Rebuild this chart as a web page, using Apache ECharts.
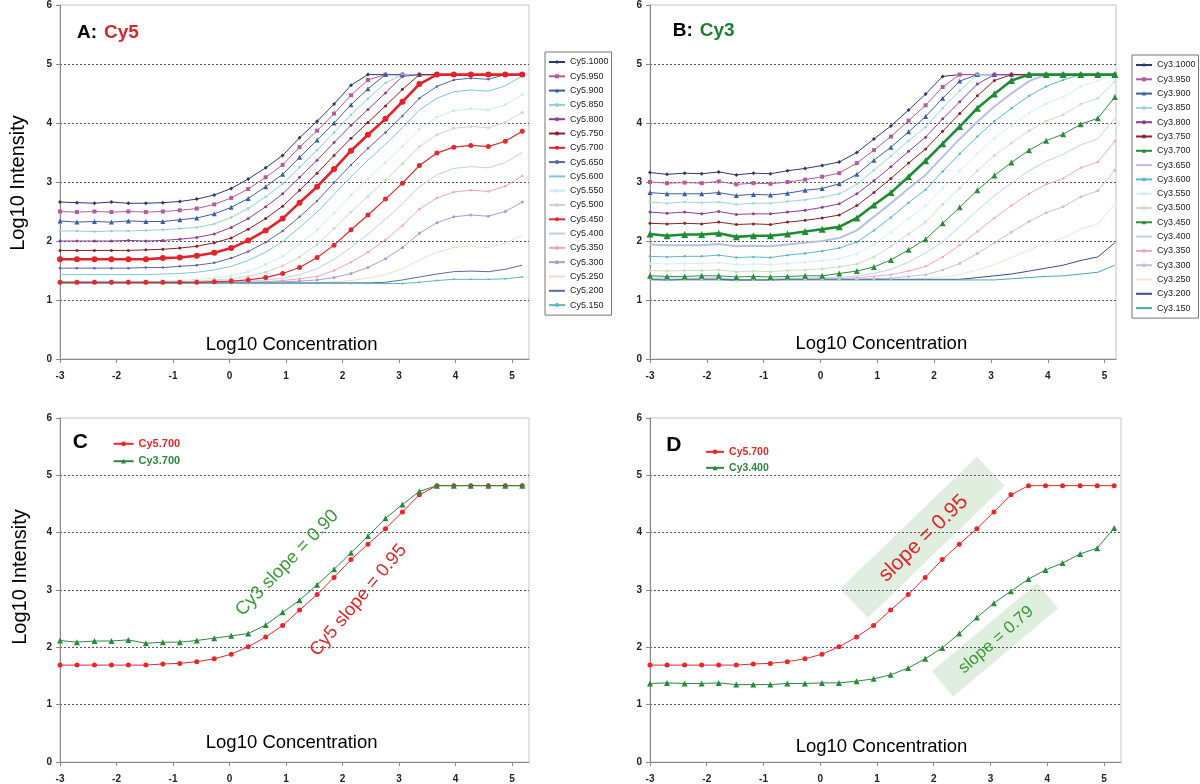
<!DOCTYPE html>
<html><head><meta charset="utf-8">
<script src="https://cdn.jsdelivr.net/npm/echarts@6/dist/echarts.min.js"></script>
<style>html,body{margin:0;padding:0;background:#fff}#c{width:1200px;height:784px}</style>
</head><body><div id="c"></div>
<script>
// ---------- data ----------
const conc = [-3.00,-2.70,-2.39,-2.09,-1.79,-1.48,-1.18,-0.88,-0.58,-0.27,0.03,0.33,0.64,0.94,1.24,1.55,1.85,2.15,2.45,2.76,3.06,3.36,3.67,3.97,4.27,4.58,4.88,5.18];
const xTickLabels = [-3,-2,-1,0,1,2,3,4,5];
const yTickLabels = [0,1,2,3,4,5,6];

const cy5Names = ['Cy5.1000','Cy5.950','Cy5.900','Cy5.850','Cy5.800','Cy5.750','Cy5.700','Cy5.650','Cy5.600','Cy5.550','Cy5.500','Cy5.450','Cy5.400','Cy5.350','Cy5.300','Cy5.250','Cy5.200','Cy5.150'];
const cy3Names = ['Cy3.1000','Cy3.950','Cy3.900','Cy3.850','Cy3.800','Cy3.750','Cy3.700','Cy3.650','Cy3.600','Cy3.550','Cy3.500','Cy3.450','Cy3.400','Cy3.350','Cy3.300','Cy3.250','Cy3.200','Cy3.150'];

const cy5_1000 = [2.66,2.65,2.64,2.66,2.64,2.64,2.65,2.67,2.71,2.78,2.89,3.05,3.24,3.45,3.75,4.03,4.32,4.64,4.82,4.82,4.82,4.82,4.82,4.82,4.82,4.82,4.82,4.82];
const cy5_950  = [2.50,2.49,2.50,2.49,2.50,2.49,2.50,2.52,2.55,2.62,2.73,2.88,3.08,3.29,3.59,3.87,4.16,4.47,4.73,4.82,4.82,4.82,4.82,4.82,4.82,4.82,4.82,4.82];
const cy5_900  = [2.34,2.32,2.33,2.32,2.34,2.33,2.33,2.36,2.39,2.46,2.57,2.72,2.92,3.13,3.42,3.71,4.00,4.31,4.58,4.82,4.82,4.82,4.82,4.82,4.82,4.82,4.82,4.82];
const cy5_850  = [2.17,2.17,2.16,2.17,2.17,2.18,2.19,2.21,2.23,2.29,2.40,2.55,2.75,2.97,3.25,3.54,3.84,4.14,4.41,4.68,4.82,4.82,4.82,4.82,4.82,4.82,4.82,4.82];
const cy5_800  = [2.00,2.00,2.00,2.00,2.01,2.00,2.01,2.03,2.06,2.12,2.23,2.38,2.58,2.80,3.08,3.37,3.67,3.96,4.23,4.51,4.79,4.82,4.82,4.82,4.82,4.82,4.82,4.82];
const cy5_750  = [1.84,1.84,1.84,1.84,1.84,1.85,1.86,1.88,1.91,1.97,2.05,2.20,2.38,2.59,2.86,3.15,3.45,3.74,4.01,4.29,4.57,4.82,4.82,4.82,4.82,4.82,4.82,4.82];
const cy5_700  = [1.69,1.69,1.69,1.69,1.69,1.69,1.71,1.72,1.75,1.80,1.88,2.01,2.18,2.38,2.65,2.92,3.22,3.53,3.80,4.07,4.36,4.66,4.82,4.82,4.82,4.82,4.82,4.82];
const cy5_650  = [1.54,1.54,1.54,1.54,1.54,1.55,1.55,1.57,1.59,1.63,1.71,1.82,1.98,2.17,2.41,2.68,2.99,3.29,3.57,3.84,4.12,4.42,4.62,4.73,4.76,4.74,4.82,4.82];
const cy5_600  = [1.43,1.43,1.43,1.43,1.43,1.43,1.44,1.45,1.47,1.51,1.57,1.67,1.81,1.99,2.23,2.49,2.79,3.09,3.37,3.64,3.92,4.22,4.42,4.53,4.56,4.54,4.63,4.80];
const cy5_550  = [1.32,1.32,1.32,1.32,1.32,1.32,1.32,1.33,1.35,1.37,1.41,1.48,1.60,1.74,1.95,2.19,2.48,2.78,3.05,3.33,3.60,3.90,4.10,4.21,4.24,4.22,4.31,4.48];
const cy5_500  = [1.31,1.31,1.31,1.31,1.31,1.31,1.31,1.31,1.32,1.34,1.36,1.40,1.47,1.58,1.73,1.94,2.21,2.49,2.76,3.03,3.31,3.60,3.80,3.91,3.94,3.92,4.01,4.18];
const cy5_450  = [1.30,1.30,1.30,1.30,1.30,1.30,1.30,1.30,1.30,1.31,1.32,1.34,1.38,1.45,1.55,1.72,1.93,2.19,2.44,2.71,2.98,3.28,3.49,3.59,3.62,3.60,3.69,3.86];
const cy5_400  = [1.30,1.30,1.30,1.30,1.30,1.30,1.30,1.30,1.30,1.30,1.30,1.32,1.34,1.37,1.43,1.53,1.69,1.89,2.12,2.37,2.63,2.92,3.12,3.23,3.26,3.24,3.33,3.50];
const cy5_350  = [1.30,1.30,1.30,1.30,1.30,1.30,1.30,1.30,1.30,1.30,1.30,1.30,1.31,1.33,1.36,1.40,1.50,1.64,1.81,2.02,2.26,2.54,2.73,2.83,2.86,2.84,2.93,3.10];
const cy5_300  = [1.30,1.30,1.30,1.30,1.30,1.30,1.30,1.30,1.30,1.30,1.30,1.30,1.30,1.31,1.32,1.34,1.38,1.45,1.55,1.70,1.89,2.13,2.31,2.41,2.44,2.42,2.50,2.66];
const cy5_250  = [1.29,1.29,1.29,1.29,1.29,1.29,1.29,1.29,1.29,1.29,1.29,1.29,1.29,1.29,1.29,1.29,1.31,1.33,1.37,1.43,1.53,1.68,1.81,1.89,1.91,1.89,1.96,2.10];
const cy5_200  = [1.29,1.29,1.29,1.29,1.29,1.29,1.29,1.29,1.29,1.29,1.29,1.29,1.29,1.29,1.29,1.29,1.29,1.29,1.29,1.30,1.34,1.39,1.44,1.48,1.49,1.48,1.52,1.59];
const cy5_150  = [1.28,1.28,1.28,1.28,1.28,1.28,1.28,1.28,1.28,1.28,1.28,1.28,1.28,1.28,1.28,1.28,1.28,1.28,1.28,1.28,1.28,1.30,1.33,1.35,1.35,1.35,1.36,1.39];

const cy3_1000 = [3.16,3.13,3.15,3.14,3.17,3.12,3.15,3.14,3.19,3.23,3.28,3.34,3.50,3.73,3.95,4.22,4.49,4.79,4.82,4.82,4.82,4.82,4.82,4.82,4.82,4.82,4.82,4.82];
const cy3_950  = [3.00,2.98,2.99,2.98,3.01,2.96,2.98,2.97,3.00,3.04,3.09,3.15,3.32,3.54,3.77,4.04,4.30,4.61,4.82,4.82,4.82,4.82,4.82,4.82,4.82,4.82,4.82,4.82];
const cy3_900  = [2.82,2.80,2.80,2.80,2.82,2.77,2.79,2.78,2.81,2.86,2.89,2.97,3.13,3.37,3.59,3.85,4.11,4.42,4.71,4.82,4.82,4.82,4.82,4.82,4.82,4.82,4.82,4.82];
const cy3_850  = [2.66,2.64,2.66,2.65,2.66,2.62,2.64,2.64,2.67,2.70,2.74,2.80,2.96,3.20,3.44,3.70,3.93,4.25,4.55,4.82,4.82,4.82,4.82,4.82,4.82,4.82,4.82,4.82];
const cy3_800  = [2.49,2.47,2.49,2.46,2.50,2.45,2.46,2.46,2.49,2.52,2.57,2.63,2.80,3.02,3.26,3.52,3.76,4.07,4.36,4.66,4.82,4.82,4.82,4.82,4.82,4.82,4.82,4.82];
const cy3_750  = [2.30,2.29,2.30,2.29,2.32,2.28,2.29,2.28,2.32,2.35,2.39,2.44,2.60,2.82,3.06,3.32,3.56,3.86,4.16,4.46,4.72,4.82,4.82,4.82,4.82,4.82,4.82,4.82];
const cy3_700  = [2.12,2.09,2.11,2.11,2.13,2.07,2.09,2.09,2.12,2.16,2.20,2.24,2.39,2.61,2.82,3.09,3.36,3.65,3.94,4.25,4.49,4.72,4.82,4.82,4.82,4.82,4.82,4.82];
const cy3_650  = [1.94,1.93,1.93,1.93,1.95,1.91,1.92,1.91,1.94,1.97,2.00,2.05,2.18,2.41,2.64,2.89,3.12,3.43,3.73,4.02,4.28,4.50,4.71,4.82,4.82,4.82,4.82,4.82];
const cy3_600  = [1.74,1.73,1.74,1.74,1.76,1.72,1.73,1.72,1.76,1.79,1.83,1.88,1.98,2.18,2.40,2.65,2.87,3.18,3.48,3.77,4.03,4.25,4.46,4.62,4.73,4.82,4.82,4.82];
const cy3_550  = [1.62,1.61,1.62,1.62,1.63,1.60,1.61,1.60,1.62,1.64,1.67,1.70,1.78,1.94,2.15,2.38,2.60,2.90,3.19,3.48,3.74,3.96,4.17,4.33,4.44,4.62,4.72,4.82];
const cy3_500  = [1.50,1.49,1.50,1.50,1.51,1.48,1.49,1.48,1.50,1.51,1.53,1.56,1.61,1.73,1.91,2.12,2.32,2.62,2.90,3.19,3.45,3.66,3.87,4.03,4.14,4.32,4.42,4.70];
const cy3_450  = [1.41,1.40,1.40,1.41,1.41,1.39,1.40,1.39,1.40,1.41,1.41,1.45,1.49,1.56,1.68,1.85,2.03,2.30,2.57,2.86,3.11,3.33,3.54,3.70,3.81,3.98,4.08,4.44];
const cy3_400  = [1.37,1.38,1.37,1.37,1.38,1.35,1.35,1.35,1.37,1.37,1.38,1.38,1.41,1.45,1.52,1.64,1.80,1.99,2.24,2.52,2.77,2.98,3.19,3.35,3.47,3.63,3.73,4.08];
const cy3_350  = [1.37,1.35,1.36,1.36,1.37,1.34,1.35,1.35,1.36,1.36,1.36,1.36,1.38,1.40,1.43,1.49,1.57,1.73,1.93,2.16,2.39,2.60,2.80,2.96,3.06,3.24,3.34,3.69];
const cy3_300  = [1.36,1.34,1.35,1.35,1.36,1.33,1.34,1.34,1.35,1.35,1.35,1.35,1.35,1.36,1.37,1.40,1.43,1.51,1.62,1.79,1.97,2.15,2.33,2.48,2.58,2.75,2.85,3.20];
const cy3_250  = [1.35,1.34,1.35,1.35,1.35,1.33,1.34,1.34,1.35,1.35,1.35,1.35,1.35,1.35,1.35,1.35,1.37,1.39,1.43,1.51,1.60,1.72,1.85,1.96,2.05,2.20,2.29,2.62];
const cy3_200  = [1.35,1.34,1.35,1.35,1.35,1.34,1.34,1.34,1.35,1.35,1.35,1.35,1.35,1.35,1.35,1.35,1.35,1.35,1.35,1.38,1.41,1.44,1.49,1.54,1.59,1.67,1.73,1.97];
const cy3_150  = [1.34,1.34,1.34,1.34,1.34,1.33,1.34,1.34,1.34,1.34,1.34,1.34,1.34,1.34,1.34,1.34,1.34,1.34,1.34,1.34,1.34,1.36,1.38,1.40,1.41,1.44,1.47,1.59];

const cy5Values = [cy5_1000,cy5_950,cy5_900,cy5_850,cy5_800,cy5_750,cy5_700,cy5_650,cy5_600,cy5_550,cy5_500,cy5_450,cy5_400,cy5_350,cy5_300,cy5_250,cy5_200,cy5_150];
const cy3Values = [cy3_1000,cy3_950,cy3_900,cy3_850,cy3_800,cy3_750,cy3_700,cy3_650,cy3_600,cy3_550,cy3_500,cy3_450,cy3_400,cy3_350,cy3_300,cy3_250,cy3_200,cy3_150];

// ---------- styles ----------
const FONT = 'Liberation Sans, Arial, sans-serif';
const cy5Style = [
 {c:'#2e3a6e',s:'diamond',z:4},{c:'#b45a9e',s:'rect',z:4},{c:'#3b5da8',s:'triangle',z:5},
 {c:'#8fd0d8',s:'circle',z:2.5},{c:'#8b3f96',s:'circle',z:3},{c:'#8e1f2b',s:'circle',z:3},
 {c:'#e2232a',s:'circle',z:6,w:2.6,top:true},{c:'#5b64a3',s:'circle',z:2.5},{c:'#7cc5de',s:null},
 {c:'#cfe8f1',s:'circle',z:3},{c:'#cad9c3',s:'circle',z:3},{c:'#df2a30',s:'circle',z:5,w:1.2,top:true},
 {c:'#b9d0e8',s:null},{c:'#eea5ba',s:'circle',z:2.5},{c:'#aa9dc9',s:'circle',z:3},
 {c:'#f4d8ca',s:null},{c:'#5b6a99',s:null},{c:'#5cb9c1',s:'circle',z:2}
];
const cy3Style = [
 {c:'#2e3a6e',s:'diamond',z:4},{c:'#b45a9e',s:'rect',z:4},{c:'#3b5da8',s:'triangle',z:5},
 {c:'#9ad6de',s:'circle',z:2.5},{c:'#8b3f96',s:'circle',z:3},{c:'#8e1f2b',s:'circle',z:3},
 {c:'#1f8b34',s:'triangle',z:7,w:2.6,top:true},{c:'#b8c0e2',s:null,w:2},{c:'#5fb8c8',s:'circle',z:2.5},
 {c:'#d6eef6',s:'circle',z:3},{c:'#c9dfc2',s:'circle',z:3},{c:'#2e8c3d',s:'triangle',z:6,w:1,top:true},
 {c:'#bcd3f0',s:null},{c:'#f0a9c0',s:'circle',z:2.5},{c:'#c6bfe0',s:'circle',z:3},
 {c:'#f6dfd2',s:null},{c:'#3d4c82',s:null},{c:'#44a9b2',s:null}
];

function mk(name, vals, st, gi){
  return {name, type:'line', xAxisIndex:gi, yAxisIndex:gi,
    data: conc.map((x,i)=>[x, vals[i]]),
    symbol: st.s || 'none', symbolSize: st.z || 3, showSymbol: !!st.s,
    lineStyle:{color:st.c, width:st.w || 1}, itemStyle:{color:st.c},
    z: st.top ? 4 : 3, silent:true, animation:false, emphasis:{disabled:true}};
}

const grids = [
  {left:60, top:5, width:469, height:354},
  {left:650, top:5, width:466, height:354},
  {left:60, top:418, width:469, height:346},
  {left:650, top:418, width:471, height:346}
];
const xMax = [5.3, 5.2, 5.3, 5.3];

const xAxes = grids.map((g,i)=>({gridIndex:i, type:'value', min:-3, max:xMax[i], interval:1,
  axisLine:{show:true, onZero:false, lineStyle:{color:'#8a8a8a'}},
  axisTick:{show:true, length:4, lineStyle:{color:'#8a8a8a'}},
  axisLabel:{margin:12, fontSize:10, fontWeight:'bold', color:'#222', fontFamily:FONT, showMaxLabel:false,
    formatter: v => xTickLabels.includes(v) ? String(v) : ''},
  splitLine:{show:false}}));
const yAxes = grids.map((g,i)=>({gridIndex:i, type:'value', min:0, max:6, interval:1,
  axisLine:{show:true, onZero:false, lineStyle:{color:'#8a8a8a'}},
  axisTick:{show:true, length:4, lineStyle:{color:'#8a8a8a'}},
  axisLabel:{margin:8, fontSize:10, fontWeight:'bold', color:'#222', fontFamily:FONT,
    formatter: v => yTickLabels.includes(v) ? String(v) : ''},
  splitLine:{show:true, showMinLine:false, showMaxLine:false, lineStyle:{color:'#555', type:[2,2], width:1}}}));

const series = [];
cy5Names.forEach((n,i)=>series.push(mk(n, cy5Values[i], cy5Style[i], 0)));
cy3Names.forEach((n,i)=>series.push(mk(n, cy3Values[i], cy3Style[i], 1)));
const redC = '#e8262b', greenC = '#2a8a3a';
series.push(mk('C Cy5.700', cy5_700, {c:redC, s:'circle', z:5}, 2));
series.push(mk('C Cy3.700', cy3_700, {c:greenC, s:'triangle', z:6}, 2));
series.push(mk('D Cy5.700', cy5_700, {c:redC, s:'circle', z:5}, 3));
series.push(mk('D Cy3.400', cy3_400, {c:greenC, s:'triangle', z:6}, 3));

function legendItems(names, styles){
  return names.map((n,i)=> styles[i].s ? {name:n} : {name:n, itemStyle:{opacity:0}});
}
const bigLegend = (names, styles, left, top) => ({
  data: legendItems(names, styles), orient:'vertical', left, top,
  itemWidth:16, itemHeight:5, itemGap:2.3, padding:[4,3,4,3],
  borderColor:'#777', borderWidth:1, backgroundColor:'#fff', selectedMode:false,
  textStyle:{fontSize:9, lineHeight:12, color:'#222', fontFamily:FONT}
});

const option = {
  animation:false,
  textStyle:{fontFamily:FONT},
  grid: grids.map(g=>Object.assign({show:true, borderColor:'#c4c4c4', borderWidth:1, containLabel:false}, g)),
  xAxis: xAxes, yAxis: yAxes, series,
  legend: [
    bigLegend(cy5Names, cy5Style, 545, 52),
    bigLegend(cy3Names, cy3Style, 1132, 55),
    {data:[{name:'C Cy5.700', textStyle:{color:redC}},{name:'C Cy3.700', textStyle:{color:greenC}}],
     formatter:n=>n.slice(2), orient:'vertical', left:0, top:0, padding:0, itemWidth:20, itemHeight:6, itemGap:4.4,
     selectedMode:false, textStyle:{fontSize:11, fontWeight:'bold', lineHeight:13, fontFamily:FONT}},
    {data:[{name:'D Cy5.700', textStyle:{color:redC}},{name:'D Cy3.400', textStyle:{color:greenC}}],
     formatter:n=>n.slice(2), orient:'vertical', left:0, top:0, padding:0, itemWidth:18, itemHeight:6, itemGap:4,
     selectedMode:false, textStyle:{fontSize:10.5, fontWeight:'bold', lineHeight:12, fontFamily:FONT}}
  ]
};

const chart = echarts.init(document.getElementById('c'));
chart.setOption(option);

const P = (g, x, y) => chart.convertToPixel({gridIndex:g}, [x, y]);
function txt(pt, text, o){
  return {type:'text', x:pt[0], y:pt[1], rotation:(o.rot||0)*Math.PI/180, z:o.z||50,
    style:{text, fill:o.color||'#000', fontSize:o.size||18, fontWeight:o.weight||'normal', fontFamily:FONT,
      align:o.align||'center', verticalAlign:'middle'}};
}
function box(pt, w, h, rot){
  return {type:'rect', x:pt[0], y:pt[1], rotation:rot*Math.PI/180, z:-1,
    shape:{x:-w/2, y:-h/2, width:w, height:h}, style:{fill:'#dfeedf'}};
}
const gfx = [];
// panel titles
const pa = P(0, -2.70, 5.53);
gfx.push(txt(pa, 'A:', {size:19, weight:'bold', align:'left'}));
gfx.push(txt([pa[0]+27, pa[1]], 'Cy5', {size:19, weight:'bold', align:'left', color:'#d9262b'}));
const pb = P(1, -2.60, 5.56);
gfx.push(txt(pb, 'B:', {size:19, weight:'bold', align:'left'}));
gfx.push(txt([pb[0]+27, pb[1]], 'Cy3', {size:19, weight:'bold', align:'left', color:'#1f7d33'}));
gfx.push(txt(P(2, -2.64, 5.57), 'C', {size:21, weight:'bold'}));
gfx.push(txt(P(3, -2.58, 5.53), 'D', {size:21, weight:'bold'}));
// axis titles
gfx.push(txt([18, 183], 'Log10 Intensity', {size:20, rot:90}));
gfx.push(txt([20, 577], 'Log10 Intensity', {size:20, rot:90}));
gfx.push(txt(P(0, 1.10, 0.24), 'Log10 Concentration', {size:18.5}));
gfx.push(txt(P(1, 1.07, 0.25), 'Log10 Concentration', {size:18.5}));
gfx.push(txt(P(2, 1.10, 0.335), 'Log10 Concentration', {size:18.5}));
gfx.push(txt(P(3, 1.08, 0.26), 'Log10 Concentration', {size:18.5}));
// annotations C
gfx.push(txt(P(2, 1.02, 3.47), 'Cy3 slope = 0.90', {size:18.5, rot:46, color:'#3a9a3a'}));
gfx.push(txt(P(2, 2.28, 2.82), 'Cy5 slope = 0.95', {size:18.5, rot:50, color:'#e0262b'}));
// annotations D
gfx.push(box(P(3, 1.80, 3.92), 190, 40, 44));
gfx.push(txt(P(3, 1.82, 3.90), 'slope = 0.95', {size:21, rot:44, color:'#e0262b'}));
gfx.push(box(P(3, 3.08, 2.13), 137, 33, 40));
gfx.push(txt(P(3, 3.10, 2.13), 'slope = 0.79', {size:17, rot:41, color:'#3a9a3a'}));

const lc = P(2, -2.07, 5.55), ld = P(3, -2.03, 5.41);
chart.setOption({
  graphic: gfx,
  legend: [{}, {}, {left: lc[0], top: lc[1]-6.5}, {left: ld[0], top: ld[1]-6}]
});
</script></body></html>
